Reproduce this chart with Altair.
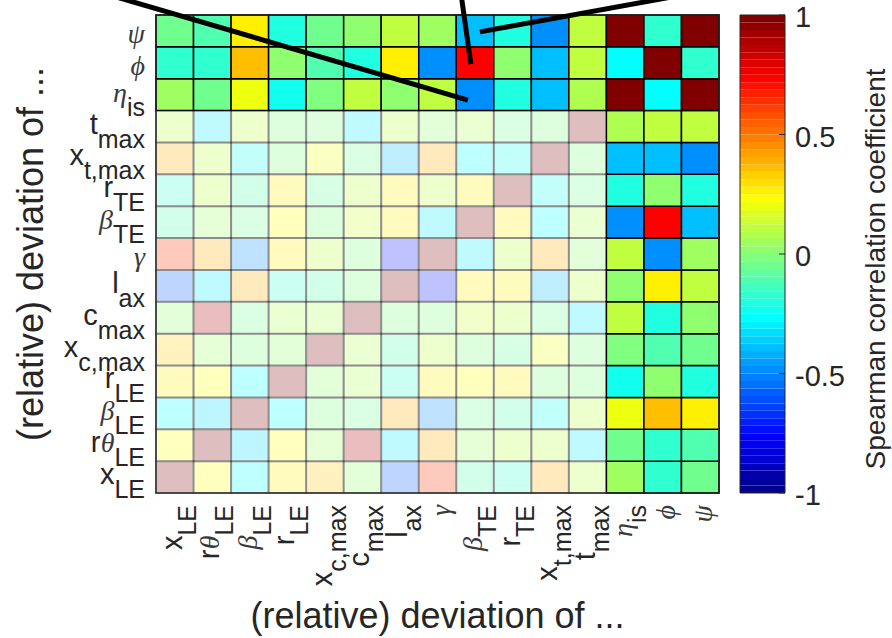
import altair as alt
import pandas as pd

# ---------------------------------------------------------------------------
# Variables (column order, left to right; rows are drawn in reverse, psi on top)
# ---------------------------------------------------------------------------
base_txt = ["x", "rθ", "β", "r", "x", "c", "l", "γ", "β", "r", "x", "t", "η", "ϕ", "ψ"]
sub_txt = ["LE", "LE", "LE", "LE", "c,max", "max", "ax", "", "TE", "TE", "t,max", "max", "is", "", ""]

# Spearman correlation matrix, one list per variable (same order as above)
corr_x_LE = [1.00, 0.22, -0.27, 0.25, 0.32, 0.02, -0.57, 0.65, -0.10, -0.18, 0.40, 0.10, 0.05, -0.17, -0.04]
corr_rth_LE = [0.22, 1.00, -0.33, 0.22, 0.05, 0.88, -0.30, 0.40, 0.05, 0.10, 0.10, -0.30, -0.04, -0.17, -0.10]
corr_beta_LE = [-0.27, -0.33, 1.00, -0.27, -0.03, -0.05, 0.38, -0.48, -0.05, -0.10, -0.25, 0.10, 0.20, 0.35, 0.25]
corr_r_LE = [0.25, 0.22, -0.27, 1.00, 0.00, 0.08, -0.17, 0.25, 0.22, 0.28, -0.03, -0.03, -0.22, 0.03, -0.20]
corr_x_cmax = [0.32, 0.05, -0.03, 0.00, 1.00, 0.08, -0.12, 0.10, -0.03, -0.07, 0.20, -0.03, -0.01, -0.10, -0.04]
corr_c_max = [0.02, 0.88, -0.05, 0.08, 0.08, 1.00, -0.03, -0.03, 0.13, 0.10, -0.05, -0.30, 0.10, -0.20, 0.03]
corr_l_ax = [-0.57, -0.30, 0.38, -0.17, -0.12, -0.03, 1.00, -0.72, 0.25, 0.25, -0.40, 0.10, 0.03, 0.28, 0.10]
corr_gamma = [0.65, 0.40, -0.48, 0.25, 0.10, -0.03, -0.72, 1.00, -0.30, 0.10, 0.40, 0.00, 0.12, -0.47, 0.06]
corr_beta_TE = [-0.10, 0.05, -0.05, 0.22, -0.03, 0.13, 0.25, -0.30, 1.00, 0.28, -0.27, 0.08, -0.47, 0.74, -0.40]
corr_r_TE = [-0.18, 0.10, -0.10, 0.28, -0.07, 0.10, 0.25, 0.10, 0.28, 1.00, -0.22, -0.05, -0.20, 0.00, -0.20]
corr_x_tmax = [0.40, 0.10, -0.25, -0.03, 0.20, -0.05, -0.40, 0.40, -0.27, -0.22, 1.00, -0.02, -0.38, -0.40, -0.47]
corr_t_max = [0.10, -0.30, 0.10, -0.03, -0.03, -0.30, 0.10, 0.00, 0.08, -0.05, -0.02, 1.00, 0.08, 0.10, 0.10]
corr_eta_is = [0.05, -0.04, 0.20, -0.22, -0.01, 0.10, 0.03, 0.12, -0.47, -0.20, -0.38, 0.08, 1.00, -0.28, 0.98]
corr_phi = [-0.17, -0.17, 0.35, 0.03, -0.10, -0.20, 0.28, -0.47, 0.74, 0.00, -0.40, 0.10, -0.28, 1.00, -0.17]
corr_psi = [-0.04, -0.10, 0.25, -0.20, -0.04, 0.03, 0.10, 0.06, -0.40, -0.20, -0.47, 0.10, 0.98, -0.17, 1.00]

corr_rows = [corr_x_LE, corr_rth_LE, corr_beta_LE, corr_r_LE, corr_x_cmax, corr_c_max,
             corr_l_ax, corr_gamma, corr_beta_TE, corr_r_TE, corr_x_tmax, corr_t_max,
             corr_eta_is, corr_phi, corr_psi]

# the last three variables are the outputs; their rows/columns are drawn fully opaque
n_inputs = 12

# annotation pointers (start / end in cell units, row 0 at the top)
ptr_x0 = [-3.68, 8.03, 8.63]
ptr_y0 = [-1.47, -1.47, 0.53]
ptr_x1 = [8.31, 8.39, 17.96]
ptr_y1 = [2.67, 1.54, -1.47]

cbar_ticks = [-1, -0.5, 0, 0.5, 1]
cbar_labels = ["-1", "-0.5", "0", "0.5", "1"]

axis_title = "(relative) deviation of ..."
cbar_title = "Spearman correlation coefficient"

# ---------------------------------------------------------------------------
# Layout / style
# ---------------------------------------------------------------------------
W, H = 563, 478
N = len(base_txt)
INK = "#262626"
SANS = "Liberation Sans"
SERIF = "Liberation Serif"
BASE_SIZE, SUB_SIZE, GREEK_SIZE = 29, 25, 28
GAP = 11
BASE_DY, SUB_DY, GREEK_ONLY_DY = 7, 21, 12
CB_X0, CB_X1 = 584, 629


def jet64():
    """MATLAB-style 64 step jet colormap."""
    cols = []
    for k in range(1, 65):
        if k <= 24:
            r = 0
        elif k <= 40:
            r = (k - 24) / 16
        elif k <= 56:
            r = 1
        else:
            r = (72 - k) / 16
        if k <= 8:
            g = 0
        elif k <= 24:
            g = (k - 8) / 16
        elif k <= 40:
            g = 1
        elif k <= 55:
            g = (56 - k) / 16
        else:
            g = 0
        if k <= 8:
            b = (k + 8) / 16
        elif k <= 24:
            b = 1
        elif k <= 39:
            b = (40 - k) / 16
        else:
            b = 0
        cols.append("#%02x%02x%02x" % (round(r * 255), round(g * 255), round(b * 255)))
    return cols


jet_scale = alt.Scale(type="quantize", domain=[-1, 1], range=jet64())
xs = alt.Scale(domain=[0, N], nice=False, zero=False)
ys = alt.Scale(domain=[0, N], nice=False, zero=False, reverse=True)

# ---------------------------------------------------------------------------
# Cells
# ---------------------------------------------------------------------------
cells = []
for i, row in enumerate(corr_rows):
    for j, v in enumerate(row):
        r = N - 1 - i
        cells.append(dict(c0=j, c1=j + 1, r0=r, r1=r + 1, value=v,
                          full=(i >= n_inputs or j >= n_inputs)))
cells = pd.DataFrame(cells)

faded = alt.Chart(cells[~cells.full]).mark_rect(
    opacity=0.25, stroke="black", strokeWidth=2
).encode(
    x=alt.X("c0:Q", scale=xs, axis=None), x2="c1:Q",
    y=alt.Y("r0:Q", scale=ys, axis=None), y2="r1:Q",
    color=alt.Color("value:Q", scale=jet_scale, legend=None),
)

full = alt.Chart(cells[cells.full]).mark_rect(
    stroke="black", strokeWidth=1.5
).encode(
    x=alt.X("c0:Q", scale=xs, axis=None), x2="c1:Q",
    y=alt.Y("r0:Q", scale=ys, axis=None), y2="r1:Q",
    color=alt.Color("value:Q", scale=jet_scale, legend=None),
)

# plot box (left / bottom edges in dark grey, drawn above the cells)
box = alt.Chart(pd.DataFrame(dict(a=[0]))).mark_rect(
    fill="transparent", stroke=INK, strokeWidth=1.5
).encode(
    x=alt.XDatum(0, type="quantitative", scale=xs, axis=None),
    x2=alt.X2Datum(N),
    y=alt.YDatum(0, type="quantitative", scale=ys, axis=None),
    y2=alt.Y2Datum(N),
)

pointers = alt.Chart(pd.DataFrame(dict(x0=ptr_x0, y0=ptr_y0, x1=ptr_x1, y1=ptr_y1))).mark_rule(
    color="black", strokeWidth=5, strokeCap="butt"
).encode(
    x=alt.X("x0:Q", scale=xs, axis=None), y=alt.Y("y0:Q", scale=ys, axis=None),
    x2="x1:Q", y2="y1:Q",
)

# ---------------------------------------------------------------------------
# Tick labels with subscripts, assembled right to left
# ---------------------------------------------------------------------------
SANS_W = {"L": 0.556, "E": 0.667, "T": 0.611, "a": 0.556, "c": 0.5, "i": 0.222, "m": 0.833,
          "r": 0.333, "s": 0.5, "t": 0.278, "x": 0.5, ",": 0.278, "l": 0.222}
GREEK_W = {"θ": 0.5, "β": 0.5, "γ": 0.45, "η": 0.5, "ϕ": 0.6, "ψ": 0.68}

pieces = []
for k in range(N):
    off = GAP
    sub = sub_txt[k]
    if sub:
        pieces.append(dict(k=k, text=sub, kind="sub", dx=-off, dy=SUB_DY))
        off += sum(SANS_W[ch] for ch in sub) * SUB_SIZE
    bdy = BASE_DY if sub else GREEK_ONLY_DY
    for ch in reversed(base_txt[k]):
        if ch in GREEK_W:
            pieces.append(dict(k=k, text=ch, kind="greek", dx=-off, dy=bdy))
            off += GREEK_W[ch] * GREEK_SIZE
        else:
            pieces.append(dict(k=k, text=ch, kind="sans", dx=-off, dy=bdy))
            off += SANS_W[ch] * BASE_SIZE
pieces = pd.DataFrame(pieces)
pieces["row_mid"] = N - 1 - pieces["k"] + 0.5
pieces["col_mid"] = pieces["k"] + 0.5

styles = {
    "sans": dict(font=SANS, fontSize=BASE_SIZE, color=INK),
    "sub": dict(font=SANS, fontSize=SUB_SIZE, color=INK),
    "greek": dict(font=SERIF, fontSize=GREEK_SIZE, fontStyle="italic", color="#3a3a3a"),
}

label_layers = []
for kind, st in styles.items():
    d = pieces[pieces.kind == kind]
    # row labels (left side)
    label_layers.append(
        alt.Chart(d).mark_text(
            align="right", baseline="alphabetic",
            dx=alt.ExprRef(expr="datum.dx"), dy=alt.ExprRef(expr="datum.dy"), **st
        ).encode(
            x=alt.XDatum(0, type="quantitative", scale=xs, axis=None),
            y=alt.Y("row_mid:Q", scale=ys, axis=None),
            text="text:N",
        )
    )
    # column labels (bottom, rotated)
    label_layers.append(
        alt.Chart(d).mark_text(
            align="right", baseline="alphabetic", angle=270,
            dx=alt.ExprRef(expr="datum.dx - 1"), dy=alt.ExprRef(expr="datum.dy"), **st
        ).encode(
            x=alt.X("col_mid:Q", scale=xs, axis=None),
            y=alt.YDatum(N, type="quantitative", scale=ys, axis=None),
            text="text:N",
        )
    )

# axis titles
title_df = pd.DataFrame(dict(t=[axis_title]))
x_title = alt.Chart(title_df).mark_text(
    font=SANS, fontSize=36, color=INK, align="center", baseline="alphabetic"
).encode(x=alt.value(W / 2), y=alt.value(H + 135), text="t:N")
y_title = alt.Chart(title_df).mark_text(
    font=SANS, fontSize=36, color=INK, align="center", baseline="alphabetic", angle=270
).encode(x=alt.value(-113), y=alt.value(H / 2), text="t:N")

heat = alt.layer(faded, full, box, pointers, *label_layers, x_title, y_title)

# ---------------------------------------------------------------------------
# Colour bar
# ---------------------------------------------------------------------------
bands = pd.DataFrame(dict(k=range(64)))
bands["lo"] = -1 + 2 * bands["k"] / 64
bands["hi"] = bands["lo"] + 2 / 64
bands["value"] = (bands["lo"] + bands["hi"]) / 2
cbs = alt.Scale(domain=[-1, 1], nice=False, zero=False)

cb_rects = alt.Chart(bands).mark_rect().encode(
    x=alt.value(CB_X0), x2=alt.value(CB_X1),
    y=alt.Y("lo:Q", scale=cbs, axis=None), y2="hi:Q",
    color=alt.Color("value:Q", scale=jet_scale, legend=None),
)

cb_frame = alt.Chart(pd.DataFrame(dict(lo=[-1], hi=[1]))).mark_rect(
    fill="transparent", stroke=INK, strokeWidth=1
).encode(
    x=alt.value(CB_X0), x2=alt.value(CB_X1),
    y=alt.Y("lo:Q", scale=cbs, axis=None), y2="hi:Q",
)

tick_df = pd.DataFrame(dict(v=cbar_ticks, lab=cbar_labels))
cb_tick = alt.Chart(tick_df).mark_rule(color=INK, strokeWidth=1).encode(
    x=alt.value(CB_X1 - 6), x2=alt.value(CB_X1),
    y=alt.Y("v:Q", scale=cbs, axis=None),
)
cb_labels = alt.Chart(tick_df).mark_text(
    font=SANS, fontSize=29, color=INK, align="left", baseline="middle", dy=3
).encode(
    x=alt.value(CB_X1 + 10),
    y=alt.Y("v:Q", scale=cbs, axis=None),
    text="lab:N",
)
cb_title = alt.Chart(pd.DataFrame(dict(t=[cbar_title]))).mark_text(
    font=SANS, fontSize=28, color=INK, align="center", baseline="alphabetic", angle=270
).encode(x=alt.value(CB_X1 + 100), y=alt.value(254), text="t:N")

cbar = alt.layer(cb_rects, cb_frame, cb_tick, cb_labels, cb_title)

chart = alt.layer(heat, cbar).resolve_scale(y="independent").properties(
    width=W, height=H,
    autosize=alt.AutoSizeParams(type="none"),
    padding={"left": 156, "top": 15, "right": 892 - 156 - W, "bottom": 638 - 15 - H},
    background="white",
).configure_view(stroke=None)

chart.save("out.html", embed_options={"renderer": "svg", "actions": False})
